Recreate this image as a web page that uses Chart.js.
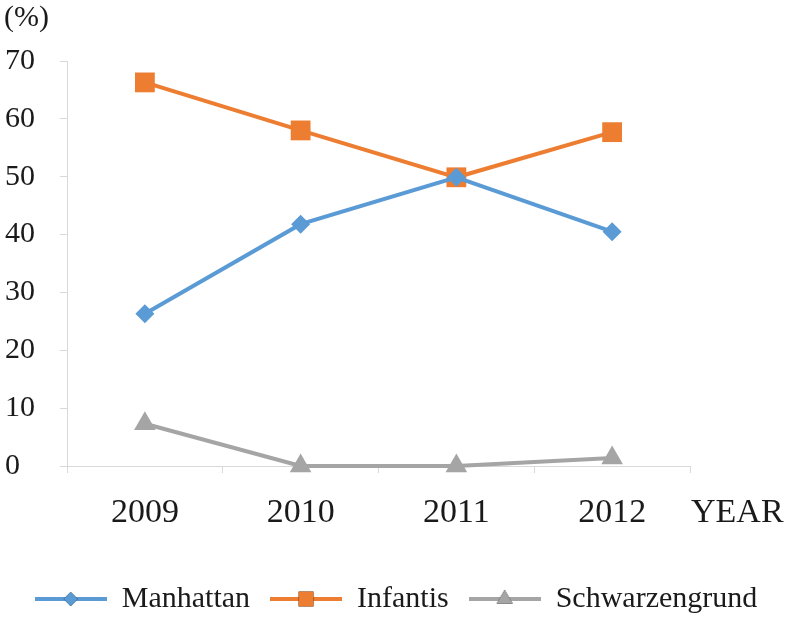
<!DOCTYPE html>
<html>
<head>
<meta charset="utf-8">
<script src="https://cdn.jsdelivr.net/npm/chart.js@4.4.0/dist/chart.umd.min.js"></script>
<style>
  html, body { margin: 0; padding: 0; background: #fff; }
  #wrap { width: 787px; height: 624px; }
</style>
</head>
<body>
<div id="wrap"><canvas id="chart" width="787" height="624"></canvas></div>
<script>
// ---- data ----
const YEARS = ['2009', '2010', '2011', '2012'];
const MANHATTAN = [26.3, 41.8, 49.9, 40.5];
const INFANTIS = [66.3, 58.0, 49.9, 57.7];
const SCHWARZENGRUND = [7.3, 0, 0, 1.4];
const Y_MAX = 70;
const Y_STEP = 10;

const SERIF = "'Liberation Serif', 'Times New Roman', serif";
const AXIS_GRAY = '#d9d9d9';

// legend icon: short line with the marker in the middle
function legendIcon(color, style, r) {
  const c = document.createElement('canvas');
  c.width = 72; c.height = 22;
  const g = c.getContext('2d');
  g.strokeStyle = color; g.lineWidth = 4;
  g.beginPath(); g.moveTo(0, 11); g.lineTo(72, 11); g.stroke();
  Chart.helpers.drawPoint(g, { pointStyle: style, radius: r, rotation: 0, borderWidth: 0 }, 36, 11);
  g.fillStyle = color; g.fill();
  return c;
}

// extra text: "(%)" above the y axis, "YEAR" after the x axis
const axisNotes = {
  id: 'axisNotes',
  afterDraw(chart) {
    const { ctx, chartArea, scales } = chart;
    ctx.save();
    ctx.fillStyle = '#1a1a1a';
    ctx.font = '30px ' + SERIF;
    ctx.textBaseline = 'middle';
    ctx.textAlign = 'left';
    ctx.fillText('(%)', 4, 18);
    ctx.font = '34px ' + SERIF;
    const yMid = scales.x.top + 7 + 20 + 20;
    ctx.fillText('YEAR', chartArea.right + 1, yMid);
    ctx.restore();
  }
};

const series = [
  { label: 'Manhattan', data: MANHATTAN, color: '#5b9bd5', style: 'rectRot', r: 9.5 },
  { label: 'Infantis', data: INFANTIS, color: '#ed7d31', style: 'rect', r: 14 },
  { label: 'Schwarzengrund', data: SCHWARZENGRUND, color: '#a5a5a5', style: 'triangle', r: 12.5 },
];

new Chart(document.getElementById('chart'), {
  type: 'line',
  data: {
    labels: YEARS,
    datasets: series.map(s => ({
      label: s.label,
      data: s.data,
      borderColor: s.color,
      backgroundColor: s.color,
      borderWidth: 4,
      pointStyle: s.style,
      pointRadius: s.r,
      pointHoverRadius: s.r,
      pointBorderWidth: 0,
      tension: 0,
      clip: false,
      icon: legendIcon(s.color, s.style, s.r * 0.75)
    }))
  },
  options: {
    responsive: false,
    animation: false,
    layout: { padding: { left: 5, right: 0, top: 61, bottom: 0 } },
    plugins: {
      tooltip: { enabled: false },
      legend: {
        position: 'bottom',
        labels: {
          usePointStyle: true,
          pointStyleWidth: 72,
          padding: 20,
          color: '#1a1a1a',
          font: { family: SERIF, size: 30 },
          generateLabels(chart) {
            const items = Chart.defaults.plugins.legend.labels.generateLabels(chart);
            items.forEach(it => { it.pointStyle = chart.data.datasets[it.datasetIndex].icon; });
            return items;
          }
        }
      }
    },
    scales: {
      x: {
        offset: true,
        grid: { offset: true, drawOnChartArea: false, tickLength: 7, color: AXIS_GRAY },
        border: { color: AXIS_GRAY, width: 1 },
        ticks: { color: '#1a1a1a', font: { family: SERIF, size: 34 }, padding: 20 },
        afterFit(scale) { scale.height = 98; }
      },
      y: {
        min: 0,
        max: Y_MAX,
        grid: { drawOnChartArea: false, tickLength: 7, color: AXIS_GRAY },
        border: { color: AXIS_GRAY, width: 1 },
        ticks: { stepSize: Y_STEP, crossAlign: 'far', color: '#1a1a1a', font: { family: SERIF, size: 30 } },
        afterFit(scale) { scale.width = 62; }
      },
      // empty right-hand strip that leaves room for "YEAR"
      yRight: {
        position: 'right',
        grid: { display: false },
        ticks: { display: false },
        border: { display: false },
        afterFit(scale) { scale.width = 97; }
      }
    }
  },
  plugins: [axisNotes]
});
</script>
</body>
</html>
